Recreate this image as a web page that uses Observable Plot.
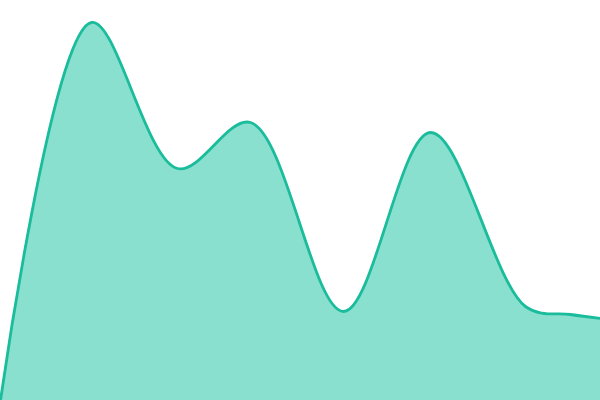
<!DOCTYPE html>
<html>
<head>
<meta charset="utf-8">
<script src="https://cdn.jsdelivr.net/npm/d3@7"></script>
<script src="https://cdn.jsdelivr.net/npm/@observablehq/plot@0.6"></script>
<style>
  html, body { margin: 0; padding: 0; background: #fff; }
</style>
</head>
<body>
<div id="chart"></div>
<script>
const xs = [0, 9.1, 17.7, 25, 34.3, 43, 52.5, 57, 60];
const ys = [0, 94.5, 58, 69.5, 22.25, 67, 23.5, 21.5, 20.5];
const data = xs.map((x, i) => ({x, y: ys[i]}));

const chart = Plot.plot({
  width: 600,
  height: 400,
  margin: 0,
  x: {domain: [0, 60], axis: null},
  y: {domain: [0, 100], axis: null},
  marks: [
    Plot.areaY(data, {x: "x", y: "y", curve: "catmull-rom", fill: "#8ae0cf"}),
    Plot.lineY(data, {x: "x", y: "y", curve: "catmull-rom", stroke: "#1abc9c", strokeWidth: 2.8})
  ]
});
document.getElementById("chart").appendChild(chart);
</script>
</body>
</html>
